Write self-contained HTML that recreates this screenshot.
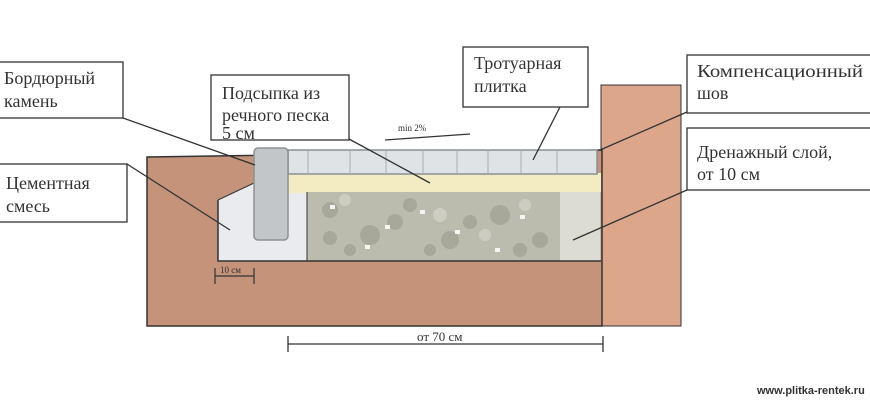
<!DOCTYPE html>
<html><head><meta charset="utf-8"><style>
body{margin:0;background:#fff;}
svg{display:block}
text{font-family:"Liberation Serif",serif;fill:#333}
</style></head><body>
<svg width="870" height="400" viewBox="0 0 870 400">
<rect width="870" height="400" fill="#fff"/>
<rect x="601" y="85" width="80" height="241" fill="#dca68b" stroke="#333" stroke-width="1"/>
<polygon points="147,157 602,150 602,326 147,326" fill="#c4937a" stroke="#333" stroke-width="1.5"/>
<polygon points="218,200 254,183 254,150 307,150 307,261 218,261" fill="#e9ebee"/>
<rect x="288" y="173" width="313" height="20" fill="#f3ebc2"/>
<rect x="307" y="192" width="294" height="69" fill="#bcbcae"/>
<g fill="#a8a89a">
<circle cx="330" cy="210" r="8"/><circle cx="370" cy="235" r="10"/><circle cx="410" cy="205" r="7"/><circle cx="450" cy="240" r="9"/><circle cx="500" cy="215" r="10"/><circle cx="540" cy="240" r="8"/><circle cx="350" cy="250" r="6"/><circle cx="470" cy="222" r="7"/>
<circle cx="395" cy="222" r="8"/><circle cx="430" cy="250" r="6"/><circle cx="520" cy="250" r="7"/><circle cx="330" cy="238" r="7"/>
</g>
<g fill="#cdcdc2">
<circle cx="345" cy="200" r="6"/><circle cx="440" cy="215" r="7"/><circle cx="485" cy="235" r="6"/><circle cx="525" cy="205" r="6"/>
</g>
<rect x="560" y="192" width="40" height="69" fill="#e4e4dc" opacity="0.8"/>
<g fill="#f4f4f0">
<rect x="330" y="205" width="5" height="4"/><rect x="385" y="225" width="5" height="4"/><rect x="420" y="210" width="5" height="4"/><rect x="455" y="230" width="5" height="4"/><rect x="495" y="248" width="5" height="4"/><rect x="520" y="215" width="5" height="4"/><rect x="365" y="245" width="5" height="4"/>
</g>
<line x1="307" y1="192" x2="307" y2="261" stroke="#333" stroke-width="1"/>
<polyline points="218,200 218,261 601,261" fill="none" stroke="#333" stroke-width="1.5"/>
<line x1="218" y1="200" x2="254" y2="183" stroke="#333" stroke-width="1"/>
<rect x="288" y="150" width="309" height="24" fill="#dfe3e6" stroke="#8a9096" stroke-width="1.5"/>
<g stroke="#a7acb0" stroke-width="1">
<line x1="308" y1="150" x2="308" y2="174"/><line x1="350" y1="150" x2="350" y2="174"/><line x1="386" y1="150" x2="386" y2="174"/><line x1="423" y1="150" x2="423" y2="174"/><line x1="457" y1="150" x2="457" y2="174"/><line x1="488" y1="150" x2="488" y2="174"/><line x1="521" y1="150" x2="521" y2="174"/><line x1="557" y1="150" x2="557" y2="174"/>
</g>
<rect x="254" y="148" width="34" height="92" rx="4" fill="#c3c6c8" stroke="#8d9194" stroke-width="1.5"/>
<g stroke="#333" stroke-width="1.3">
<line x1="123" y1="118" x2="255" y2="165"/>
<line x1="349" y1="139" x2="430" y2="183"/>
<line x1="560" y1="107" x2="533" y2="160"/>
<line x1="687" y1="112" x2="600" y2="150"/>
<line x1="127" y1="164" x2="230" y2="230"/>
<line x1="687" y1="190" x2="573" y2="240"/>
<line x1="385" y1="140" x2="470" y2="134"/>
</g>
<g fill="#fff" stroke="#333" stroke-width="1.3">
<rect x="-2" y="62" width="125" height="56"/>
<rect x="211" y="75" width="138" height="65"/>
<rect x="463" y="47" width="125" height="60"/>
<rect x="687" y="55" width="190" height="58"/>
<rect x="-2" y="164" width="129" height="58"/>
<rect x="687" y="128" width="190" height="62"/>
</g>
<g font-size="18">
<text x="4" y="84">Бордюрный</text><text x="4" y="107">камень</text>
<text x="222" y="99">Подсыпка из</text><text x="222" y="121">речного песка</text><text x="222" y="139">5 см</text>
<text x="474" y="69">Тротуарная</text><text x="474" y="92">плитка</text>
<text x="697" y="77" textLength="166" lengthAdjust="spacingAndGlyphs">Компенсационный</text><text x="697" y="99">шов</text>
<text x="6" y="189">Цементная</text><text x="6" y="212">смесь</text>
<text x="697" y="158">Дренажный слой,</text><text x="697" y="180">от 10 см</text>
</g>
<text x="398" y="131" font-size="9">min 2%</text>
<g stroke="#333" stroke-width="1.2">
<line x1="215" y1="268" x2="215" y2="284"/><line x1="254" y1="268" x2="254" y2="284"/><line x1="215" y1="276" x2="254" y2="276"/>
</g>
<text x="220" y="273" font-size="9">10 см</text>
<g stroke="#333" stroke-width="1.3">
<line x1="288" y1="336" x2="288" y2="352"/><line x1="603" y1="336" x2="603" y2="352"/><line x1="288" y1="344" x2="603" y2="344"/>
</g>
<text x="417" y="341" font-size="13">от 70 см</text>
<text x="757" y="394" font-size="11" font-weight="bold" style="font-family:'Liberation Sans',sans-serif">www.plitka-rentek.ru</text>
</svg>
</body></html>
